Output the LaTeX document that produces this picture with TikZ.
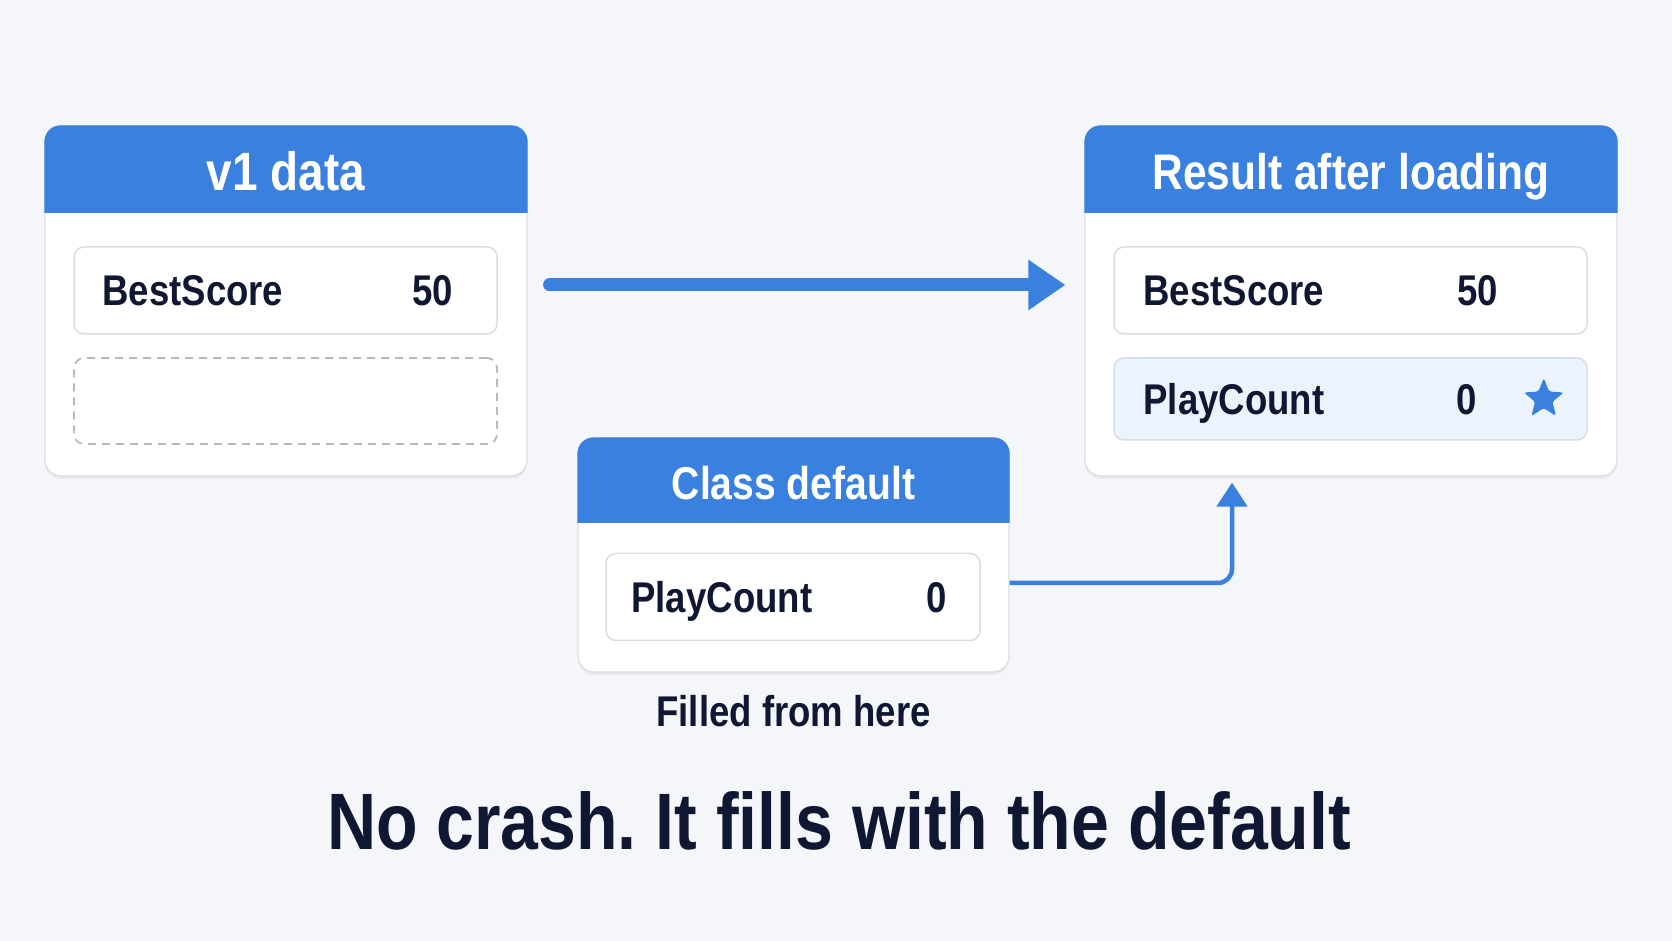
\documentclass[tikz,border=0pt]{standalone}
\usepackage{fontspec}
\setmainfont{Liberation Sans}[FakeStretch=0.85]
\usetikzlibrary{positioning,arrows.meta,shapes.geometric,shadows}
\definecolor{bg}{HTML}{F4F6FA}
\definecolor{hdrblue}{HTML}{3A80DE}
\definecolor{cardline}{HTML}{DADEE4}
\definecolor{rowline}{HTML}{D9DDE3}
\definecolor{rowblue}{HTML}{EBF3FD}
\definecolor{dashgray}{HTML}{B5B9BF}
\definecolor{navy}{HTML}{0F1733}
\frenchspacing
\tikzset{
  card/.style={draw=cardline,fill=white,line width=1.2pt,rounded corners=16pt,inner sep=0pt,
    drop shadow={shadow xshift=0pt,shadow yshift=-3pt,opacity=0.10,fill=black!50}},
  row/.style={draw=rowline,fill=white,line width=1.5pt,rounded corners=10pt,inner sep=0pt,minimum height=87pt},
  gap/.style={row,draw=dashgray,dash pattern=on 8pt off 6pt,line width=1.8pt},
  title/.style={text=white,font=\fontsize{50}{58}\selectfont\bfseries,inner sep=0pt,text height=36pt,text depth=0pt},
  key/.style={text=navy,font=\fontsize{43}{50}\selectfont\bfseries,inner sep=0pt,text height=31pt,text depth=0pt},
  note/.style={key,font=\fontsize{43}{50}\selectfont\bfseries,text height=31pt},
  headline/.style={key,font=\fontsize{80}{94}\selectfont\bfseries,text height=58pt},
  bigarrow/.style={hdrblue,line width=13pt,line cap=round,-{Triangle[length=37pt,width=48pt]}},
  link/.style={hdrblue,line width=4.5pt,rounded corners=14pt,-{Triangle[length=24pt,width=30pt]}}
}

\begin{document}
\begin{tikzpicture}[x=1pt,y=1pt]

  % page
  \fill[bg] (0,0) rectangle (1672,941);
  \useasboundingbox (0,0) rectangle (1672,941);

  % cards
  \node[card,minimum width=482,minimum height=350] (lc) at (286,640) {};
  \node[card,minimum width=532,minimum height=350] (rc) at (1351,640) {};
  \node[card,minimum width=431,minimum height=234] (mc) at (793.5,386) {};

  % headers
  \foreach \c/\h in {lc/88,rc/88,mc/86}{
    \begin{scope}
      \clip[rounded corners=16pt] (\c.south west) rectangle (\c.north east);
      \fill[hdrblue] (\c.north west) rectangle ([yshift=-\h]\c.north east);
    \end{scope}
  }
  \node[title,font=\fontsize{54}{60}\selectfont\bfseries,text height=39pt] (lt) at ([yshift=-46]lc.north) {v1 data};
  \node[title] (rt) at ([yshift=-46]rc.north) {Result after loading};
  \node[title,font=\fontsize{46}{54}\selectfont\bfseries,text height=33pt] (mt) at ([yshift=-46]mc.north) {Class default};

  % rows
  \node[row,minimum width=423] (lbest) at (285.5,650.5) {};
  \node[gap,minimum width=423,minimum height=86] (lgap) at (285.5,540) {};
  \node[row,minimum width=473] (rbest) at (1350.5,650.5) {};
  \node[row,fill=rowblue,minimum width=473,minimum height=82] (rplay) at (1350.5,542) {};
  \node[row,minimum width=374] (mplay) at (793,344) {};

  % row texts
  \node[key,right=29pt of lbest.west] (lbk) {BestScore};
  \node[key] (lbv) at ([xshift=-65]lbest.east) {50};
  \node[key,right=30pt of rbest.west] (rbk) {BestScore};
  \node[key] (rbv) at ([xshift=-110]rbest.east) {50};
  \node[key,right=30pt of rplay.west] (rpk) {PlayCount};
  \node[key] (rpv) at ([xshift=-121]rplay.east) {0};
  \node[star,star points=5,star point ratio=2.3,fill=hdrblue,minimum size=42pt,inner sep=0pt,
    rounded corners=2.5pt] (st) at ([xshift=-44]rplay.east) {};
  \node[key,right=26pt of mplay.west] (mpk) {PlayCount};
  \node[key] (mpv) at ([xshift=-44]mplay.east) {0};

  % captions
  \node[note,below=23pt of mc] (fill) {Filled from here};
  \node[headline] (msg) at (839,120.5) {No crash. It fills with the default};

  % arrows
  \draw[bigarrow] ([xshift=22,yshift=16]lc.east) -- ([xshift=-19,yshift=16]rc.west);
  \draw[link] ([yshift=-28]mc.east) -| ([xshift=-119,yshift=-6]rc.south);

\end{tikzpicture}
\end{document}
